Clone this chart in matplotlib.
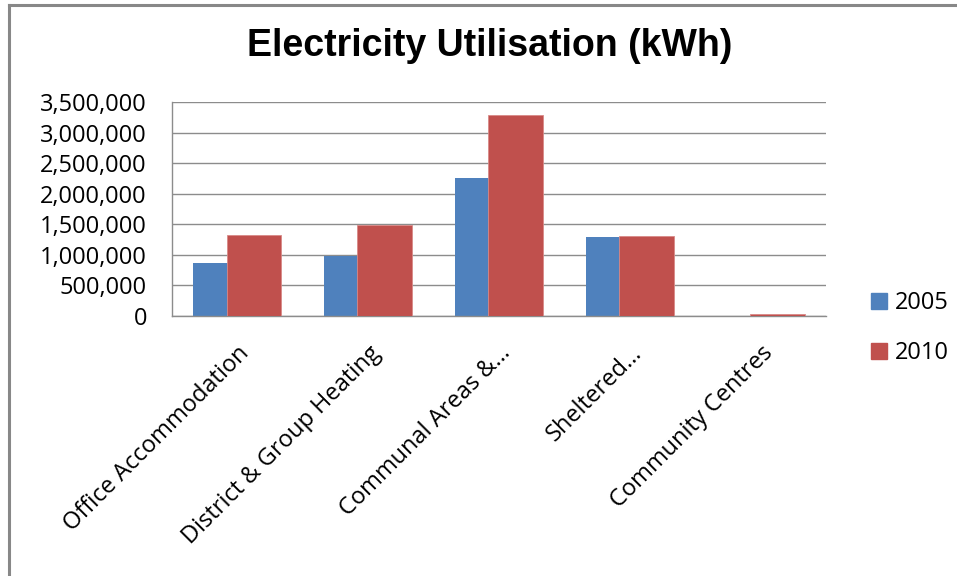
"""Electricity utilisation by building type, 2005 vs 2010 (clustered bars)."""

import matplotlib
matplotlib.use("Agg")
import matplotlib.pyplot as plt
import numpy as np
from matplotlib.lines import Line2D
from matplotlib.ticker import FuncFormatter, MultipleLocator

categories = [
    "Office Accommodation",
    "District & Group Heating",
    "Communal Areas &\u2026",
    "Sheltered\u2026",
    "Community Centres",
]
years = ["2005", "2010"]
kwh_2005 = [870000, 980000, 2250000, 1290000, 0]
kwh_2010 = [1330000, 1495000, 3285000, 1315000, 28000]

BLUE = "#4F81BD"
RED = "#C0504D"
GRID = "#8C8C8C"
LABEL_FONT = "Open Sans"
LABEL_SIZE = 17


def main() -> None:
    fig = plt.figure(figsize=(9.57, 5.76), dpi=100)
    ax = fig.add_axes([0.1797, 0.4514, 0.6834, 0.3715])

    x = np.arange(len(categories))
    width = 0.42
    offset = 0.127
    ax.bar(x - offset, kwh_2005, width, color=BLUE, label=years[0], zorder=2)
    ax.bar(x + offset, kwh_2010, width, color=RED, label=years[1], zorder=3,
           edgecolor="#D88A88", linewidth=0.6)

    ax.set_xlim(-0.5, len(categories) - 0.5)
    ax.set_ylim(0, 3500000)
    ax.yaxis.set_major_locator(MultipleLocator(500000))
    ax.yaxis.set_major_formatter(FuncFormatter(lambda v, _: f"{int(v):,}"))
    ax.grid(axis="y", color=GRID, linewidth=1.0, zorder=0)
    ax.set_axisbelow(True)

    for side in ("top", "right"):
        ax.spines[side].set_visible(False)
    for side in ("left", "bottom"):
        ax.spines[side].set_color(GRID)
        ax.spines[side].set_linewidth(1.0)

    ax.tick_params(axis="y", length=0, pad=18, labelsize=LABEL_SIZE)
    ax.tick_params(axis="x", length=0, pad=18)
    for lbl in ax.get_yticklabels():
        lbl.set_fontfamily(LABEL_FONT)

    ax.set_xticks(x)
    ax.set_xticklabels(categories, rotation=45, ha="right",
                       rotation_mode="anchor", fontsize=LABEL_SIZE,
                       fontfamily=LABEL_FONT)

    fig.text(0.5115, 0.903, "Electricity Utilisation (kWh)", ha="center",
             va="baseline", fontsize=27, fontweight="bold",
             fontfamily="Liberation Sans")

    handles = [
        Line2D([], [], marker="s", linestyle="none", markersize=11,
               markerfacecolor=BLUE, markeredgecolor=BLUE),
        Line2D([], [], marker="s", linestyle="none", markersize=11,
               markerfacecolor=RED, markeredgecolor=RED),
    ]
    fig.legend(handles, years, loc="center left",
               bbox_to_anchor=(0.886, 0.43), frameon=False,
               prop={"family": LABEL_FONT, "size": LABEL_SIZE},
               handlelength=0.8, handletextpad=0.3, labelspacing=1.1)

    # partial chart frame along the top and left edges
    fig.add_artist(Line2D([0.0094, 1.0], [0.9913, 0.9913], color="#888888",
                          linewidth=2.2, transform=fig.transFigure))
    fig.add_artist(Line2D([0.0094, 0.0094], [0.0, 0.9913], color="#888888",
                          linewidth=2.2, transform=fig.transFigure))

    fig.savefig("out.png", dpi=100)
    plt.close(fig)


if __name__ == "__main__":
    main()
